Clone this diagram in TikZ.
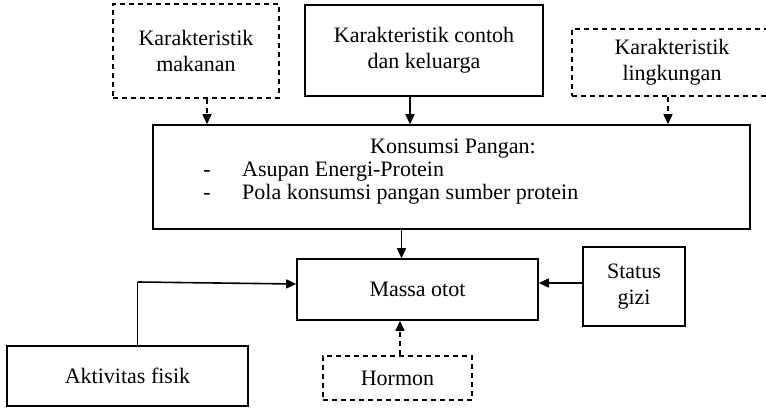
\documentclass[tikz,border=0pt]{standalone}
\usepackage{fontspec}
\setmainfont{Liberation Serif}
\usetikzlibrary{arrows.meta}
\begin{document}
\begin{tikzpicture}[x=1pt,y=-1pt,
 box/.style={draw,line width=1.6pt,inner sep=0pt,align=center,font=\fontsize{22}{26}\selectfont},
 dbox/.style={box,dash pattern=on 5pt off 4pt},
 arr/.style={line width=1.6pt,-{Triangle[length=10pt,width=9pt]}},
 darr/.style={arr,dash pattern=on 5pt off 4pt},
 txt/.style={inner sep=0pt,font=\fontsize{22}{26}\selectfont}]
\useasboundingbox (0,0) rectangle (766,410);
\node[dbox,minimum width=166pt,minimum height=94pt] (mak) at (196,51) {Karakteristik\\makanan};
\node[box,minimum width=238pt,minimum height=91pt] (con) at (424,50.5) {Karakteristik contoh\\dan keluarga};
\node[dbox,minimum width=200pt,minimum height=67pt] (lin) at (672,62.5) {Karakteristik\\lingkungan};
\node[box,minimum width=597pt,minimum height=104pt] (kon) at (451.5,177) {};
\node[txt,anchor=base] (kt) at (453,153) {Konsumsi Pangan:};
\node[txt,anchor=base] (d1) at (207,176) {-};
\node[txt,anchor=base west] (l1) at (242,176) {Asupan Energi-Protein};
\node[txt,anchor=base] (d2) at (207,199) {-};
\node[txt,anchor=base west] (l2) at (242,199) {Pola konsumsi pangan sumber protein};
\node[box,minimum width=241pt,minimum height=61pt] (mas) at (417.5,289.5) {Massa otot};
\node[box,minimum width=102pt,minimum height=79pt] (sta) at (634,286.5) {Status\\gizi};
\node[dbox,minimum width=149pt,minimum height=44pt] (hor) at (397.5,378) {Hormon};
\node[box,minimum width=241pt,minimum height=60pt] (akt) at (127.5,376) {Aktivitas fisik};
% connectors
\draw[darr] ([xshift=11pt]mak.south) -- ([xshift=11pt]mak.south |- kon.north);
\draw[arr] ([xshift=-14pt]con.south) -- ([xshift=-14pt]con.south |- kon.north);
\draw[darr] ([xshift=-4pt]lin.south) -- ([xshift=-4pt]lin.south |- kon.north);
\draw[arr] ([xshift=-50pt]kon.south) -- ([xshift=-50pt]kon.south |- mas.north);
\draw[arr] ([yshift=3.5pt]sta.west) -- ([yshift=3.5pt]sta.west -| mas.east);
\draw[darr] ([xshift=2.5pt]hor.north) -- ([xshift=2.5pt]hor.north |- mas.south);
\coordinate (bend) at (137,282);
\draw[line width=0.7pt] (akt.north -| bend) -- (bend);
\draw[arr] ([xshift=1pt]bend) -- ([yshift=5.5pt]mas.west);
\end{tikzpicture}
\end{document}
